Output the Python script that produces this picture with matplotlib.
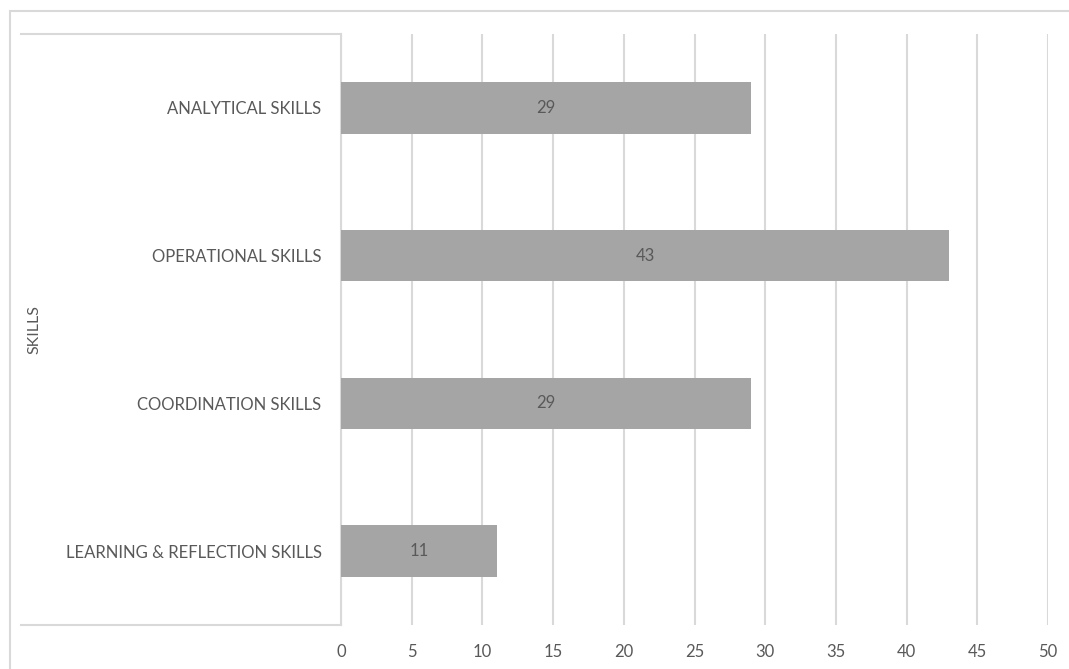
import numpy as np
import matplotlib.pyplot as plt
from matplotlib.patches import Rectangle
from matplotlib.lines import Line2D

categories = ["LEARNING & REFLECTION SKILLS", "COORDINATION SKILLS",
              "OPERATIONAL SKILLS", "ANALYTICAL SKILLS"]
values = [11, 29, 43, 29]
x_ticks = [0, 5, 10, 15, 20, 25, 30, 35, 40, 45, 50]

TEXT = "#595959"
GRID = "#d9d9d9"
BAR = "#a5a5a5"

plt.rcParams["font.family"] = ["Lato", "DejaVu Sans"]

fig = plt.figure(figsize=(10.69, 6.69), dpi=100)
ax = fig.add_axes([341 / 1069, 1 - 625 / 669, 707 / 1069, 591 / 669])

y = np.arange(len(categories))
bars = ax.barh(y, values, height=0.35, color=BAR, zorder=3)
for b, v in zip(bars, values):
    ax.text(b.get_width() / 2, b.get_y() + b.get_height() / 2, str(v),
            ha="center", va="center", fontsize=12, color=TEXT, zorder=4)

ax.set_xlim(0, 50)
ax.set_ylim(-0.5, len(categories) - 0.5)
ax.set_xticks(x_ticks)
ax.set_xticklabels([str(t) for t in x_ticks])
ax.set_yticks(y)
ax.set_yticklabels(categories)
ax.tick_params(axis="x", length=0, pad=14, labelsize=12, labelcolor=TEXT)
ax.tick_params(axis="y", length=0, pad=14, labelsize=12, labelcolor=TEXT)
ax.grid(axis="x", color=GRID, linewidth=1.5, zorder=0)
for s in ["top", "right", "bottom"]:
    ax.spines[s].set_visible(False)
ax.spines["left"].set_color(GRID)
ax.spines["left"].set_linewidth(1.5)

ax.set_ylabel("SKILLS", fontsize=11.5, color=TEXT)
ax.yaxis.set_label_coords((41 - 341) / 707, 0.5)

# category-axis box lines, as in the source
for yy in (34, 625):
    fig.add_artist(Line2D([21 / 1069, 341 / 1069], [1 - yy / 669, 1 - yy / 669],
                          color=GRID, linewidth=1.5))

# chart area border (runs off right and bottom)
fig.add_artist(Rectangle((10 / 1069, -0.1), 1.2, 1.1 - 11 / 669,
                         transform=fig.transFigure, fill=False,
                         edgecolor=GRID, linewidth=1.5))

fig.savefig("out.png", dpi=100)
